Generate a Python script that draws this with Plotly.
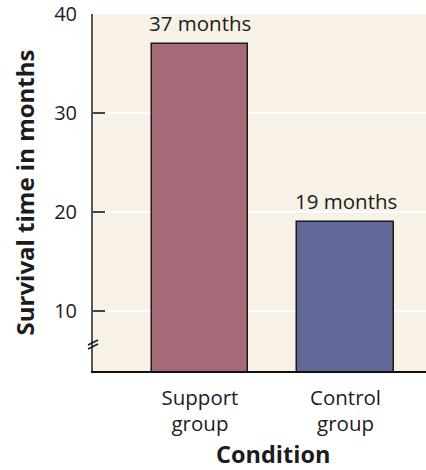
import plotly.graph_objects as go

# Survival time by condition
conditions = ["Support<br>group", "Control<br>group"]
survival_months = [37, 19]
bar_colors = ["#A66B79", "#5F6896"]
y_ticks = [10, 20, 30, 40]

FONT = "Open Sans"
TEXT = "#1c1c1c"
BG = "#F8F1E6"

fig = go.Figure()
fig.add_trace(go.Bar(
    x=list(range(len(conditions))),
    y=survival_months,
    width=0.66,
    marker=dict(color=bar_colors, line=dict(color="#1a1a1a", width=1.5)),
    hoverinfo="skip",
))

# value labels above each bar
for i, v in enumerate(survival_months):
    fig.add_annotation(
        x=i, y=v, text=f"{v} months", showarrow=False,
        yanchor="bottom", yshift=5,
        font=dict(family=FONT, size=20.5, color=TEXT),
    )

# x-axis title centred under the two groups
fig.add_annotation(
    x=0.5, xref="x", y=0, yref="paper", yshift=-83,
    text="<b>Condition</b>", showarrow=False, yanchor="middle",
    font=dict(family=FONT, size=23.5, color=TEXT),
)

# axis-break marks on the y axis
brk_y = 6.62
for dy in (-2, 2):
    fig.add_shape(
        type="line", xref="paper", yref="y",
        xsizemode="pixel", ysizemode="pixel",
        xanchor=0, yanchor=brk_y,
        x0=-5, x1=5, y0=dy - 2.5, y1=dy + 2.5,
        line=dict(color="#1a1a1a", width=1.5),
    )

fig.update_layout(
    width=426, height=470,
    margin=dict(l=93, r=0, t=14, b=99),
    paper_bgcolor="white",
    plot_bgcolor=BG,
    showlegend=False,
    bargap=0,
    font=dict(family=FONT, color=TEXT),
)

fig.update_xaxes(
    range=[-0.735, 1.553],
    tickvals=list(range(len(conditions))),
    ticktext=conditions,
    tickfont=dict(family=FONT, size=20.5, color=TEXT),
    showgrid=False, zeroline=False,
    showline=True, linecolor="#111111", linewidth=2,
    ticks="", ticklabelstandoff=7,
)

fig.update_yaxes(
    range=[3.94, 40],
    tickvals=y_ticks,
    tickfont=dict(family=FONT, size=20, color=TEXT),
    ticklabeloverflow="allow",
    showgrid=True, gridcolor="white", gridwidth=2,
    zeroline=False,
    showline=True, linecolor="#555555", linewidth=2,
    ticks="inside", ticklen=12, tickwidth=2, tickcolor="#444444",
    ticklabelstandoff=10,
    title=dict(text="<b>Survival time in months</b>",
               font=dict(family=FONT, size=24, color=TEXT), standoff=13),
)

fig.write_html("out.html")
